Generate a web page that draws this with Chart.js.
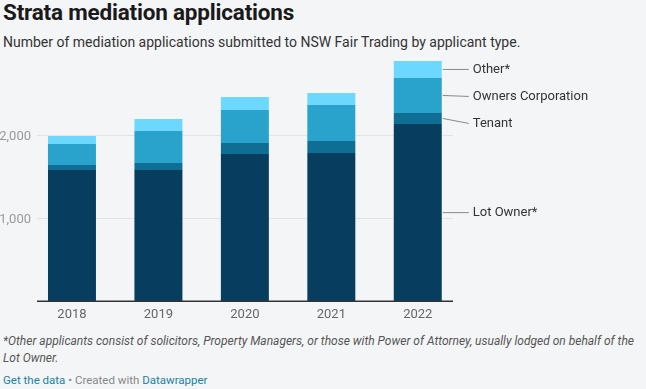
<!DOCTYPE html>
<html>
<head>
<meta charset="utf-8">
<script src="https://cdn.jsdelivr.net/npm/chart.js@4"></script>
<style>
  html, body { margin: 0; padding: 0; background: #f4f5f7; }
  body { width: 646px; height: 389px; position: relative; overflow: hidden; font-family: Roboto, sans-serif; }
  h1 { position: absolute; left: 3px; top: -1px; margin: 0; font-size: 22.5px; font-weight: 700; color: #1a1a1a; letter-spacing: -0.2px; }
  .sub { position: absolute; left: 3px; top: 34px; font-size: 14px; color: #333; }
  .wrap { position: absolute; left: 0; top: 50px; width: 646px; height: 280px; }
  .note { position: absolute; left: 3px; top: 333px; width: 640px; font-size: 12px; line-height: 17px; font-style: italic; color: #555; }
  .src { position: absolute; left: 3px; top: 373px; font-size: 11.5px; color: #888; }
  .src a { color: #1d81a2; text-decoration: none; }
</style>
</head>
<body>
<h1>Strata mediation applications</h1>
<div class="sub">Number of mediation applications submitted to NSW Fair Trading by applicant type.</div>
<div class="wrap"><canvas id="c" width="646" height="280"></canvas></div>
<div class="note">*Other applicants consist of solicitors, Property Managers, or those with Power of Attorney, usually lodged on behalf of the Lot Owner.</div>
<div class="src"><a>Get the data</a> • Created with <a>Datawrapper</a></div>
<script>
const years = ['2018', '2019', '2020', '2021', '2022'];
const lotOwner = [1582, 1582, 1775, 1787, 2137];
const tenant = [61, 85, 133, 145, 132];
const ownersCorp = [253, 385, 397, 433, 422];
const other = [96, 145, 157, 145, 205];
const yTicks = [1000, 2000];

// gridlines, y labels, baseline and direct labels
const directLabels = {
  id: 'directLabels',
  beforeDatasetsDraw(chart) {
    const { ctx } = chart;
    const y = chart.scales.y;
    ctx.save();
    ctx.strokeStyle = '#e2e3e6';
    ctx.lineWidth = 1;
    ctx.font = '13px Roboto';
    ctx.fillStyle = '#999';
    ctx.textAlign = 'right';
    ctx.textBaseline = 'middle';
    yTicks.forEach(t => {
      const py = Math.round(y.getPixelForValue(t)) + 0.5;
      ctx.beginPath();
      ctx.moveTo(37, py);
      ctx.lineTo(453, py);
      ctx.stroke();
      ctx.fillText(t.toLocaleString('en-US'), 31, py + 1);
    });
    ctx.restore();
  },
  afterDatasetsDraw(chart) {
    const { ctx } = chart;
    const y = chart.scales.y;
    ctx.save();
    ctx.strokeStyle = '#333';
    ctx.lineWidth = 1.5;
    const py0 = y.getPixelForValue(0);
    ctx.beginPath();
    ctx.moveTo(37, py0);
    ctx.lineTo(453, py0);
    ctx.stroke();

    const last = years.length - 1;
    const items = chart.data.datasets.map((ds, i) => {
      const el = chart.getDatasetMeta(i).data[last];
      return { label: ds.label, x: el.x + el.width / 2, mid: (el.y + el.base) / 2 };
    });
    items.sort((a, b) => a.mid - b.mid);
    let prev = -Infinity;
    items.forEach(it => {
      it.ly = Math.max(it.mid, prev + 27);
      prev = it.ly;
    });
    ctx.font = '13px Roboto';
    ctx.fillStyle = '#333';
    ctx.textBaseline = 'middle';
    items.forEach(it => {
      ctx.strokeStyle = '#888';
      ctx.lineWidth = 1;
      ctx.beginPath();
      ctx.moveTo(it.x + 1, it.mid);
      ctx.lineTo(it.x + 27, it.ly);
      ctx.stroke();
      ctx.fillText(it.label, it.x + 31, it.ly + 0.5);
    });
    ctx.restore();
  }
};

new Chart(document.getElementById('c'), {
  type: 'bar',
  data: {
    labels: years,
    datasets: [
      { label: 'Lot Owner*', data: lotOwner, backgroundColor: '#073e60' },
      { label: 'Tenant', data: tenant, backgroundColor: '#0e6e94' },
      { label: 'Owners Corporation', data: ownersCorp, backgroundColor: '#29a2cc' },
      { label: 'Other*', data: other, backgroundColor: '#6cd8fe' }
    ]
  },
  options: {
    responsive: false,
    animation: false,
    maintainAspectRatio: false,
    layout: { padding: { left: 28.75, right: 185, top: 2.3, bottom: 0 } },
    datasets: { bar: { categoryPercentage: 0.555, barPercentage: 1, borderWidth: 0 } },
    plugins: { legend: { display: false }, tooltip: { enabled: false } },
    scales: {
      x: {
        stacked: true,
        grid: { display: false, drawTicks: false },
        border: { display: false },
        afterFit(scale) { scale.height = 28.7; },
        ticks: { color: '#666', font: { family: 'Roboto', size: 13 }, padding: 6 }
      },
      y: {
        display: false,
        stacked: true,
        min: 0,
        max: 3000
      }
    }
  },
  plugins: [directLabels]
});
</script>
</body>
</html>
